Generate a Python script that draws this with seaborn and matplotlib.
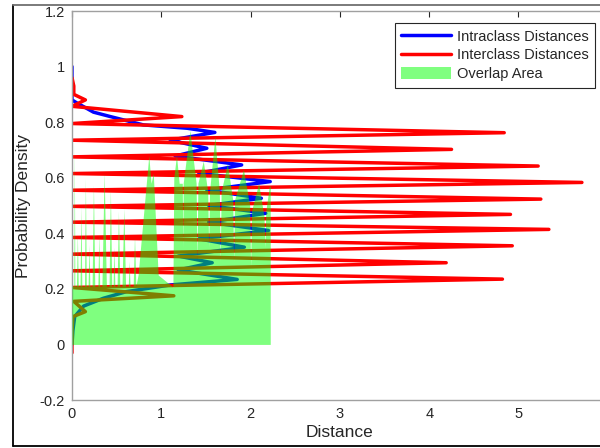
import matplotlib
matplotlib.use("Agg")
import matplotlib.pyplot as plt
import seaborn as sns
import numpy as np
from matplotlib.lines import Line2D
from matplotlib.patches import Patch

# values (x = density, y = distance, as drawn)
blue_x = [0.00, 0.00, 0.05, 0.24, 0.43, 0.80, 1.29, 1.60, 1.10, 1.51, 1.155,
          1.90, 1.42, 2.22, 1.51, 2.12, 1.53, 2.17, 1.53, 2.20, 1.42, 1.93,
          1.19, 1.57, 1.19, 1.85, 1.10, 0.61, 0.35, 0.13, 0.03, 0.01, 0.00]
blue_y = [1.00, 0.88, 0.87, 0.836, 0.82, 0.79, 0.778, 0.763, 0.735, 0.706, 0.678,
          0.646, 0.616, 0.586, 0.556, 0.526, 0.50, 0.472, 0.44, 0.41, 0.38, 0.35,
          0.318, 0.294, 0.268, 0.234, 0.214, 0.19, 0.166, 0.138, 0.10, 0.05, 0.00]

red_x = [0.00, 0.02, 0.02, 0.15, 0.00, 1.23, 0.00, 4.84, 0.00, 4.25, 0.00,
         5.22, 0.00, 5.71, 0.00, 5.25, 0.00, 4.91, 0.00, 5.34, 0.00, 4.93,
         0.00, 4.19, 0.00, 4.82, 0.00, 1.14, 0.02, 0.15, 0.01, 0.00, 0.00]
red_y = [0.96, 0.93, 0.90, 0.88, 0.857, 0.82, 0.795, 0.762, 0.735, 0.702, 0.675,
         0.642, 0.615, 0.583, 0.555, 0.523, 0.497, 0.468, 0.44, 0.414, 0.385, 0.355,
         0.325, 0.294, 0.265, 0.235, 0.205, 0.175, 0.155, 0.118, 0.10, 0.05, -0.03]

# upper edge of the green overlap area
overlap_x = [
    0.000, 0.020, 0.026, 0.032,
    0.050, 0.060, 0.070,
    0.090, 0.100, 0.110,
    0.140, 0.150, 0.160,
    0.180, 0.190, 0.200,
    0.225, 0.240, 0.255,
    0.290, 0.300, 0.310,
    0.335, 0.360, 0.385,
    0.415, 0.430, 0.445,
    0.460, 0.470, 0.480,
    0.505, 0.520, 0.535,
    0.560, 0.580, 0.600,
    0.630, 0.640, 0.650,
    0.685, 0.700, 0.715,
    0.740, 0.860, 0.885, 0.910, 0.965,
    1.130, 1.140, 1.170, 1.200,
    1.235, 1.240, 1.245, 1.320,
    1.390, 1.400, 1.410, 1.470,
    1.520, 1.530, 1.540, 1.600,
    1.650, 1.660, 1.670, 1.740,
    1.800, 1.810, 1.820, 1.920,
    1.990, 2.000, 2.010, 2.090,
    2.150, 2.160, 2.170, 2.210, 2.220,
]
overlap_top = [
    0.21, 0.21, 0.73, 0.21,
    0.21, 0.40, 0.21,
    0.21, 0.50, 0.21,
    0.21, 0.60, 0.21,
    0.21, 0.36, 0.21,
    0.21, 0.575, 0.21,
    0.21, 0.40, 0.21,
    0.21, 0.62, 0.21,
    0.21, 0.56, 0.21,
    0.21, 0.35, 0.21,
    0.21, 0.48, 0.21,
    0.21, 0.49, 0.21,
    0.21, 0.30, 0.21,
    0.21, 0.39, 0.21,
    0.25, 0.68, 0.58, 0.616, 0.25,
    0.207, 0.60, 0.68, 0.58,
    0.58, 0.35, 0.58, 0.77,
    0.58, 0.30, 0.58, 0.66,
    0.55, 0.35, 0.55, 0.75,
    0.55, 0.30, 0.55, 0.65,
    0.52, 0.30, 0.52, 0.63,
    0.50, 0.28, 0.48, 0.58,
    0.46, 0.35, 0.48, 0.57, 0.57,
]

x_ticks = [0, 1, 2, 3, 4, 5, 6]
x_tick_labels = ['0', '1', '2', '3', '4', '5', '']  # 6 falls outside the crop
y_ticks = [-0.2, 0, 0.2, 0.4, 0.6, 0.8, 1, 1.2]
y_tick_labels = ['-0.2', '0', '0.2', '0.4', '0.6', '0.8', '1', '1.2']

sns.set_style("white")
plt.rcParams['font.family'] = ['Liberation Sans', 'DejaVu Sans']

fig = plt.figure(figsize=(6, 4.48), dpi=100)
# axes runs past the right edge like the cropped original
ax = fig.add_axes([72 / 600, 48 / 448, 6 * 89.3 / 600, 389 / 448])

sns.lineplot(x=blue_x, y=blue_y, sort=False, estimator=None, color='blue',
             linewidth=2.5, ax=ax, zorder=2)
sns.lineplot(x=red_x, y=red_y, sort=False, estimator=None, color='red',
             linewidth=2.5, ax=ax, zorder=2)
ax.fill_between(overlap_x, 0, overlap_top, color=(0, 1, 0), alpha=0.5,
                linewidth=0, zorder=3)

ax.set_xlim(0, 6)
ax.set_ylim(-0.2, 1.2)
ax.set_xticks(x_ticks)
ax.set_xticklabels(x_tick_labels)
ax.set_yticks(y_ticks)
ax.set_yticklabels(y_tick_labels)
ax.tick_params(direction='in', top=True, right=True, length=4, width=0.8,
               color='#262626', labelsize=10.5, labelcolor='#262626', pad=5)
for s in ax.spines.values():
    s.set_color('#a0a0a0')
    s.set_linewidth(1.0)

ax.set_xlabel('Distance', fontsize=12.5, color='#262626', labelpad=3)
ax.set_ylabel('Probability Density', fontsize=12.5, color='#262626', labelpad=6)

handles = [Line2D([], [], color='blue', lw=2.5),
           Line2D([], [], color='red', lw=2.5),
           Patch(facecolor=(0.5, 1, 0.5), edgecolor='none')]
leg = ax.legend(handles, ['Intraclass Distances', 'Interclass Distances', 'Overlap Area'],
                loc='upper right', bbox_to_anchor=(595 / 600, 1 - 23 / 448),
                bbox_transform=fig.transFigure, borderaxespad=0, fontsize=10.5,
                handlelength=3.4, handleheight=0.9, handletextpad=0.4,
                labelspacing=0.32, borderpad=0.45, fancybox=False, framealpha=1)
leg.get_frame().set_edgecolor('#262626')
leg.get_frame().set_linewidth(0.8)

# outer window frame
fig.add_artist(Line2D([12.5 / 600, 12.5 / 600], [2 / 448, 443 / 448],
                      transform=fig.transFigure, color='black', lw=1.3))
fig.add_artist(Line2D([12.5 / 600, 1], [2 / 448, 2 / 448],
                      transform=fig.transFigure, color='black', lw=1.3))
fig.add_artist(Line2D([12.5 / 600, 1], [443 / 448, 443 / 448],
                      transform=fig.transFigure, color='#707070', lw=1.3))

fig.savefig('out.png', dpi=100)
